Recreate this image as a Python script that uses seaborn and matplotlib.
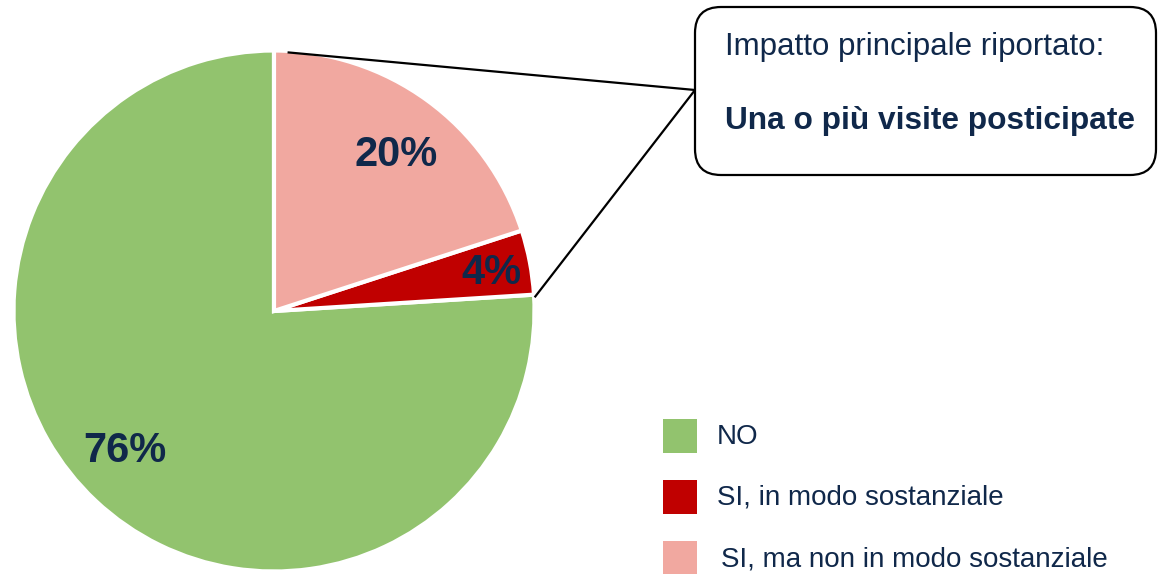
import numpy as np
import matplotlib
matplotlib.use("Agg")
import matplotlib.pyplot as plt
from matplotlib.patches import FancyBboxPatch, Rectangle
import seaborn as sns

# Survey answers and their shares (%)
categories = ["NO", "SI, in modo sostanziale", "SI, ma non in modo sostanziale"]
shares = [76, 4, 20]
slice_colors = ["#92C36E", "#C00000", "#F1A8A0"]

callout_title = "Impatto principale riportato:"
callout_text = "Una o più visite posticipate"

sns.set_theme(style="white")
plt.rcParams["font.family"] = ["Liberation Sans", "DejaVu Sans"]

W, H = 1158, 574
NAVY = "#10284A"

fig = plt.figure(figsize=(W / 100, H / 100), dpi=100)
ax = fig.add_axes([0, 0, 1, 1])


def fy(y):
    """Convert a top-down pixel row to axis y."""
    return H - y


# Pie geometry (pixel space)
cx, cy, R = 274, fy(311), 260.5
palette = sns.color_palette(slice_colors)

wedges, _ = ax.pie(
    shares,
    colors=palette,
    startangle=90,
    counterclock=True,
    center=(cx, cy),
    radius=R,
    frame=True,
    wedgeprops=dict(edgecolor="white", linewidth=3),
)

# Percentage labels placed near each slice's bisector (radius factor, angle shift)
label_pos = [(0.78, -4.2), (0.853, 0.0), (0.774, -1.5)]
for w, v, (rf, dth) in zip(wedges, shares, label_pos):
    mid = np.deg2rad((w.theta1 + w.theta2) / 2 + dth)
    ax.text(cx + rf * 259 * np.cos(mid), cy + rf * 259 * np.sin(mid) - 3, f"{v}%",
            ha="center", va="center", fontsize=30, fontweight="bold", color=NAVY)

# Callout box
bx0, by0, bx1, by1 = 695, 7, 1156, 175
box = FancyBboxPatch((bx0, fy(by1)), bx1 - bx0, by1 - by0,
                     boxstyle="round,pad=0,rounding_size=26",
                     facecolor="white", edgecolor="black", linewidth=1.6, zorder=3)
ax.add_patch(box)
ax.text(725, fy(55), callout_title, ha="left", va="baseline",
        fontsize=22.5, color=NAVY, zorder=4)
ax.text(725, fy(129), callout_text, ha="left", va="baseline",
        fontsize=22.8, fontweight="bold", color=NAVY, zorder=4)

# Leader lines from the "SI" part of the pie to the callout
anchor = (bx0, fy(90))
for ang, rr in [(87, 259), (3, 261)]:
    a = np.deg2rad(ang)
    ax.plot([cx + rr * np.cos(a), anchor[0]], [cy + rr * np.sin(a), anchor[1]],
            color="black", linewidth=1.6, solid_capstyle="butt", zorder=2)

# Legend: colour squares with labels
sq = 34
for i, (lab, col) in enumerate(zip(categories, palette)):
    top = 419 + i * 61
    ax.add_patch(Rectangle((663, fy(top + sq)), sq, sq, facecolor=col,
                           edgecolor="none"))
    ax.text(717 + (4 if i == 2 else 0), fy(top + sq / 2 + 1), lab,
            ha="left", va="center", fontsize=20, color=NAVY)

ax.set_xlim(0, W)
ax.set_ylim(0, H)
ax.set_aspect("equal")
ax.axis("off")

fig.savefig("out.png", dpi=100, facecolor="white")
